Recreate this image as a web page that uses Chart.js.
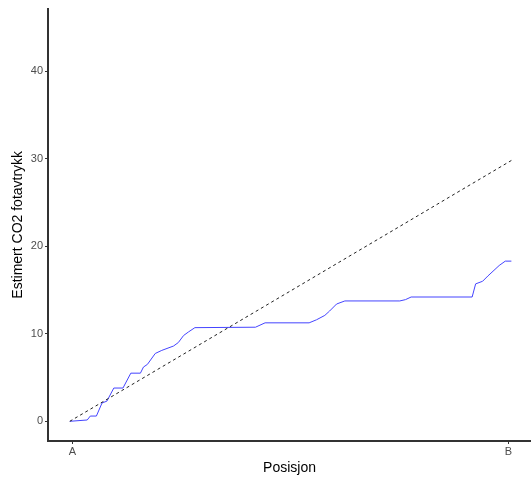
<!DOCTYPE html>
<html>
<head>
<meta charset="utf-8">
<script src="https://cdn.jsdelivr.net/npm/chart.js@4/dist/chart.umd.min.js"></script>
<style>
html,body{margin:0;padding:0;background:#fff;}
#wrap{width:531px;height:477px;position:relative;}
</style>
</head>
<body>
<div id="wrap"><canvas id="c" width="531" height="477"></canvas></div>
<script>
// Position along route (A = 0, B = 1)
const posisjon = [-0.006,0.034,0.041,0.055,0.068,0.079,0.095,0.116,0.134,0.156,0.163,0.172,0.19,0.205,0.232,0.243,0.255,0.266,0.281,0.42,0.442,0.543,0.56,0.579,0.59,0.606,0.625,0.751,0.764,0.777,0.917,0.925,0.941,0.953,0.979,0.993,1.007];
// Estimated CO2 footprint (cumulative)
const co2 = [0,0.15,0.6,0.6,2.1,2.3,3.8,3.8,5.5,5.5,6.2,6.5,7.75,8.1,8.6,9.0,9.8,10.2,10.7,10.75,11.25,11.25,11.6,12.1,12.6,13.4,13.75,13.75,13.9,14.2,14.2,15.7,16.0,16.6,17.8,18.3,18.3];
// Reference (straight) line
const refX = [-0.006, 1.007];
const refY = [0, 29.8];
// Tick labels
const xTickVals = [0, 1];
const xTickLabels = ['A', 'B'];
const yTickVals = [0, 10, 20, 30, 40];

const blueData = posisjon.map((x, i) => ({x: x, y: co2[i]}));
const refData = refX.map((x, i) => ({x: x, y: refY[i]}));

const tickFont = {family: '"Liberation Sans", Arial, sans-serif', size: 11};
const titleFont = {family: '"Liberation Sans", Arial, sans-serif', size: 14};

new Chart(document.getElementById('c'), {
  type: 'line',
  data: {
    datasets: [
      {data: refData, borderColor: '#222', borderWidth: 1, borderDash: [3, 3], pointRadius: 0, tension: 0, fill: false},
      {data: blueData, borderColor: '#4444ff', borderWidth: 1, pointRadius: 0, tension: 0, fill: false}
    ]
  },
  options: {
    responsive: false,
    animation: false,
    events: [],
    layout: {padding: {top: 8, right: 0, left: 0, bottom: 0}},
    plugins: {legend: {display: false}, tooltip: {enabled: false}},
    scales: {
      x: {
        type: 'linear',
        min: -0.056, max: 1.052,
        afterBuildTicks: s => { s.ticks = xTickVals.map(v => ({value: v})); },
        afterFit: s => { s.height = 36; },
        ticks: {
          font: tickFont, color: '#4d4d4d', padding: 1, maxRotation: 0,
          callback: (v) => { const i = xTickVals.indexOf(v); return i >= 0 ? xTickLabels[i] : ''; }
        },
        grid: {display: true, drawOnChartArea: false, drawTicks: true, tickLength: 3, color: '#333', lineWidth: 1},
        border: {display: true, color: '#333', width: 2},
        title: {display: true, text: 'Posisjon', font: titleFont, color: '#000', padding: {top: 2, bottom: 0}}
      },
      y: {
        type: 'linear',
        min: -2.25, max: 47.15,
        afterBuildTicks: s => { s.ticks = yTickVals.map(v => ({value: v})); },
        afterFit: s => { s.width = 48; },
        ticks: {font: tickFont, color: '#4d4d4d', padding: 2},
        grid: {display: true, drawOnChartArea: false, drawTicks: true, tickLength: 3, color: '#333', lineWidth: 1},
        border: {display: true, color: '#333', width: 2},
        title: {display: true, text: 'Estimert CO2 fotavtrykk', font: titleFont, color: '#000', padding: {top: 10, bottom: 0}}
      }
    }
  }
});
</script>
</body>
</html>
